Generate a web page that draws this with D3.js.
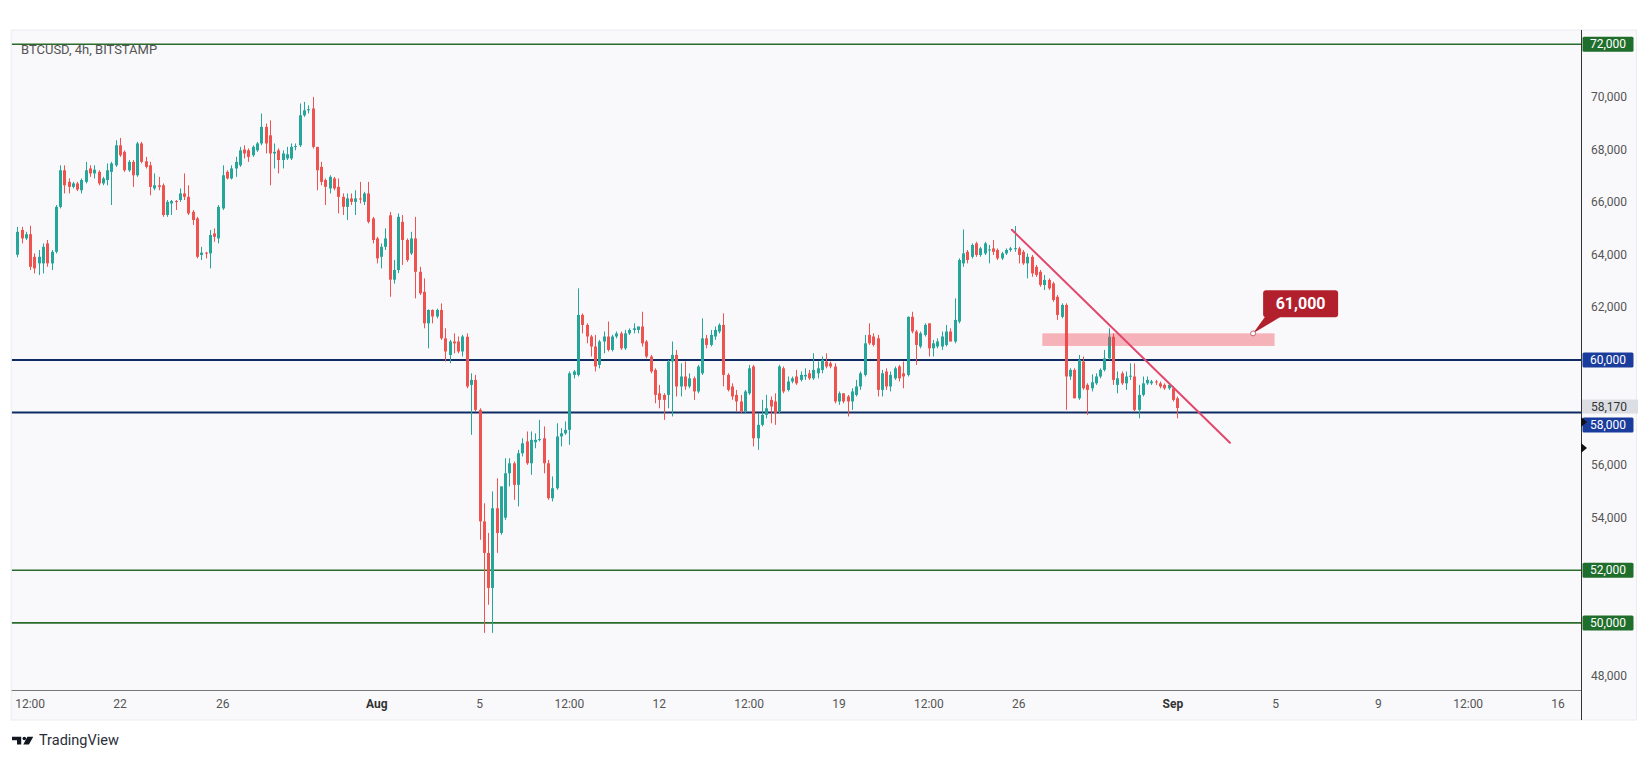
<!DOCTYPE html>
<html><head><meta charset="utf-8">
<script src="https://cdn.jsdelivr.net/npm/d3@7"></script>
<style>
body{margin:0;background:#fff;}
svg{display:block;font-family:Roboto,"Liberation Sans",sans-serif;}
</style></head><body>
<svg id="chart" width="1651" height="760"></svg>
<script>
// ---------------- DATA ----------------
const symbolTitle = "BTCUSD, 4h, BITSTAMP";
const barStart = "2024-07-18T00:00:00Z";
const barHours = 4;
const open = [
64000,64940,64620,64780,63920,63670,63670,64430,63670,64110,
65820,67210,66770,66580,66710,66450,66770,67280,67090,67150,
66710,66840,67150,67400,68160,67910,67210,67530,67020,68230,
67550,67400,66520,66640,66640,65510,65950,66040,66080,66330,
66200,65630,65380,63990,64080,64050,64810,64620,65760,67150,
66900,67280,67400,68000,67970,67780,67970,68230,68860,68540,
67850,67970,67600,67660,67660,68100,68160,69300,69490,69560,
68100,67340,66840,66520,66900,66580,66200,65820,66140,66010,
66140,66010,66330,65380,64620,63920,64300,65500,63050,63420,
65250,64560,64050,64620,63350,62590,61390,61900,61650,61900,
60820,60190,60700,60700,60320,60880,59050,59240,58100,53860,
52660,51330,54360,53420,54000,55690,56070,55250,56450,56900,
56070,56870,56960,57020,56070,54740,55120,57090,57210,57340,
59430,59430,61710,61330,60890,60510,59810,60700,60890,60380,
60890,61010,60440,61010,61140,61140,61270,60700,60130,59620,
58730,58670,58670,59940,60190,58990,59370,58990,59300,58800,
59490,60820,60570,60890,61080,61330,59430,58990,58670,58420,
58040,58730,59750,57020,57530,57910,58480,58420,58040,59680,
58860,59180,59370,59240,59370,59490,59300,59490,59620,59940,
59870,59750,58420,58730,58610,58420,58670,58990,59430,60950,
60890,60820,58860,59560,58990,59300,59750,59490,59430,61640,
61080,60510,60950,61390,60440,60510,60510,60570,61080,60700,
61460,63670,64110,63920,64430,63990,64050,64180,64240,64180,
63860,64050,64180,64240,64240,64110,63670,63920,63540,63350,
62850,63040,62910,62400,61640,62090,59370,59620,58540,59940,
59050,58920,59110,59370,59620,60060,60880,59050,59490,59110,
59370,59370,58100,58670,59110,59110,59180,59110,59050,58920,
58920,58540];
const high = [
65060,65060,64870,65100,64050,64180,64430,64560,64180,65890,
67400,67400,66900,66770,66770,66900,67530,67400,67400,67210,
66960,67470,67530,68350,68440,67970,67600,67600,68290,68290,
67720,67530,67090,66960,66710,66080,66080,66080,66520,67090,
66640,65700,65440,64300,64110,64940,65000,65890,67400,67210,
67400,67720,68100,68160,68040,68160,68290,69370,68990,69110,
68230,68040,67970,68100,68230,68230,69750,69810,69680,70000,
68100,67530,66900,67020,66960,66900,66330,66330,66330,66450,
66770,66390,66770,65440,64680,64430,65000,65630,63800,65570,
65510,64620,64870,65440,63540,63100,61920,61920,61950,62150,
61200,60760,61010,60890,60950,61010,59490,59430,58160,54550,
53420,55000,55500,55190,56260,56260,56140,56580,57020,57280,
57280,57210,57720,57470,56200,55570,57590,57400,57660,59560,
59620,62720,61770,61390,60950,60950,60760,61080,61460,60950,
61080,61080,61140,61200,61390,61270,61830,60760,60190,59680,
59050,58730,60000,60700,60380,59870,59940,59490,59370,59810,
61580,60950,61140,61270,61390,61770,59490,59110,58860,58670,
58860,59810,59810,57970,58480,58670,58610,58730,59810,59750,
59370,59370,59620,59560,59680,59620,60250,59940,60130,60250,
59940,59870,58800,58730,58670,58920,59240,59560,60950,61390,
61010,60950,59620,59680,59560,59750,59810,59940,61650,61830,
61140,61080,61390,61390,60760,60820,61080,61330,61200,62340,
63860,64960,64180,64430,64490,64300,64490,64370,64560,64240,
64110,64240,64300,65090,64300,64180,64050,63990,63610,63420,
63230,63100,62970,62470,62150,62150,59680,59680,60190,60130,
59110,59450,59490,59680,60380,61200,61010,59560,59560,59560,
59870,59870,59050,59370,59370,59240,59240,59180,59110,59110,
58990,58610];
const low = [
63900,64430,64560,63420,63290,63230,63290,63540,63420,64050,
65760,66330,66330,66520,66420,66330,66710,66960,66900,66640,
66640,66640,65890,67340,67720,67150,67150,66580,66960,67470,
67280,66260,66450,66450,65440,65440,65510,65700,66010,66080,
65510,65130,63860,63800,63860,63480,64490,64430,65700,66860,
66860,66960,67340,67660,67530,67720,67910,68160,67850,66640,
67280,67090,67280,67600,67600,67970,68100,69240,69370,68040,
66450,66640,65890,66330,66450,65570,65510,65320,65890,65510,
65950,65890,65190,64430,63670,63480,64180,62400,62900,63300,
63610,63730,63990,62340,62470,61200,60440,61390,61580,60760,
59940,59870,60250,60250,60130,58920,57150,58040,53160,49620,
50690,49620,52660,53350,53920,55190,54680,54430,56330,56010,
55630,56640,56900,55690,54680,54620,55060,56710,57150,56770,
59300,59370,61010,60630,60130,59560,59680,60250,60320,60320,
60820,60380,60380,60950,61010,61010,60510,60060,59490,58350,
58160,57720,58160,57850,58610,58610,58860,58920,58480,58730,
59430,60440,60510,60760,61010,58990,58800,58480,58040,57970,
57970,58670,56710,56580,57470,57780,57590,57530,57970,58730,
58800,59110,59050,59180,59240,59240,59240,59300,59490,59680,
59680,58350,58290,58350,57850,58100,58610,58860,59370,60570,
60510,58610,58610,58860,58800,59240,59180,58920,59370,61010,
59810,60440,60890,60130,60130,60440,60380,60510,60700,60630,
61390,63540,63670,63860,63920,63920,63990,63670,63990,63800,
63800,63990,64110,64110,63670,63610,63100,63160,63160,62780,
62660,62660,62210,61520,61580,58100,59240,58540,58480,58860,
57910,58800,59050,59300,59560,60000,59050,58730,59050,58860,
59240,58040,57780,58610,59050,59050,59050,58920,58860,58860,
58420,57780];
const close = [
64870,64620,64780,63540,63480,63920,64300,63670,64110,65820,
67210,66640,66580,66710,66480,66840,67210,67090,67230,66710,
66900,67210,67470,68160,67780,67210,67530,67020,68230,67530,
67340,66580,66640,66580,65510,66010,66040,66000,66330,66200,
65570,65320,63920,64080,64050,64750,64680,65820,67020,66900,
67280,67530,67970,67850,67720,68100,68230,68860,68230,67850,
67910,67600,67850,67820,68100,68130,69300,69490,69530,68100,
67210,66770,66580,66960,66520,66200,65820,66140,66010,66140,
66100,66330,65250,64560,63860,64300,64620,63050,63420,65440,
64560,63800,64620,63350,62530,61390,61900,61650,61900,60820,
60320,60700,60630,60320,60890,58990,59240,58100,53860,52660,
51330,54360,53420,55190,55690,56070,55250,56450,56830,56070,
56960,56960,56990,56070,54740,55120,57090,57210,57340,59490,
59560,61710,61330,60890,60510,59750,60700,60890,60380,60890,
61010,60440,61010,61140,61200,61270,60630,60130,59560,58670,
58480,58480,59940,60190,58990,59370,58990,59300,58800,59750,
60820,60570,60950,61140,61330,59430,58860,58610,58420,58040,
58800,59680,57020,57530,57910,58160,58230,57970,59750,58800,
59180,59300,59110,59430,59430,59300,59620,59680,60000,59750,
59750,58420,58730,58420,58420,58800,58990,59490,60630,60630,
60570,58860,59490,58990,59430,59680,59300,59370,61640,61080,
60570,61010,61330,60440,60630,60700,60890,61080,60700,61520,
63800,64050,63800,64370,63990,64240,64430,64200,64110,63860,
64050,64180,64240,64250,63990,63670,63920,63290,63230,62850,
63040,62720,62280,61710,62090,59370,59620,58540,60000,58920,
58860,59150,59370,59620,60060,60880,59240,59300,59110,59370,
59400,58100,58670,59110,59240,59180,59170,58990,58920,59050,
58480,58170];

const yTickValues = [48000,50000,52000,54000,56000,58000,60000,62000,64000,66000,68000,70000];
const xTickDates = ["2024-07-18T12:00Z","2024-07-22T00:00Z","2024-07-26T00:00Z","2024-08-01T00:00Z",
  "2024-08-05T00:00Z","2024-08-08T12:00Z","2024-08-12T00:00Z","2024-08-15T12:00Z","2024-08-19T00:00Z",
  "2024-08-22T12:00Z","2024-08-26T00:00Z","2024-09-01T00:00Z","2024-09-05T00:00Z","2024-09-09T00:00Z",
  "2024-09-12T12:00Z","2024-09-16T00:00Z"];
const xTickLabels = ["12:00","22","26","Aug","5","12:00","12","12:00","19","12:00","26","Sep","5","9","12:00","16"];
const xTickMonth = [false,false,false,true,false,false,false,false,false,false,false,true,false,false,false,false];

const levelPrices = [72000,60000,58000,52000,50000];
const levelKind = ["outer","range","range","outer","outer"];
const lastPrice = 58170;
const markerPrices = [57640,56650];

const zoneTimes = ["2024-08-26T22:00Z","2024-09-04T23:00Z"];
const zonePrices = [60530,61010];
const trendTimes = ["2024-08-25T17:30Z","2024-09-03T05:20Z"];
const trendPrices = [64950,56850];
const calloutText = "61,000";
const calloutTime = "2024-09-04T03:00Z";
const calloutPrice = 61010;

// ---------------- LAYOUT ----------------
const W = 1651, H = 760;
const plotL = 11.7, plotR = 1581, plotT = 30, plotB = 690;
const DAY = 864e5;
const t0 = Date.parse("2024-07-22T00:00:00Z");
const x = d3.scaleUtc()
  .domain([new Date(t0 - 4.217*DAY), new Date(t0 + 56.893*DAY)])
  .range([plotL, plotR]);
const y = d3.scaleLinear().domain([47449, 72544]).range([plotB, plotT]);

const colUp = "#26a69a", colDown = "#ef5350";
const levelColor = {outer:"#2a6b2c", range:"#0f2c63"};
const levelBox = {outer:"#1f6e2b", range:"#1a3c9c"};
const levelWidth = {outer:1.6, range:2};

const svg = d3.select("#chart");
svg.append("rect").attr("width",W).attr("height",H).attr("fill","#fff");
svg.append("rect").attr("x",plotL-0.5).attr("y",plotT).attr("width",1637-plotL).attr("height",720-plotT)
  .attr("fill","#f9f9fb").attr("stroke","#ececf0");

const defs = svg.append("defs");
defs.append("clipPath").attr("id","plot").append("rect")
  .attr("x",plotL).attr("y",plotT).attr("width",plotR-plotL).attr("height",plotB-plotT);
defs.append("clipPath").attr("id","title").append("rect")
  .attr("x",plotL).attr("y",45).attr("width",400).attr("height",30);

// title (partly hidden under top level line)
svg.append("text").attr("clip-path","url(#title)")
  .attr("x",21).attr("y",53.5).attr("font-size",13).attr("fill","#555").text(symbolTitle);

const g = svg.append("g").attr("clip-path","url(#plot)");

// level lines
const levels = levelPrices.map((p,i)=>({p,k:levelKind[i]}));
g.selectAll("line.level").data(levels).join("line").attr("class","level")
  .attr("x1",plotL).attr("x2",plotR)
  .attr("y1",d=>y(d.p)).attr("y2",d=>y(d.p))
  .attr("stroke",d=>levelColor[d.k]).attr("stroke-width",d=>levelWidth[d.k]);

// candles
const bars = open.map((o,i)=>({t:new Date(Date.parse(barStart)+i*barHours*3600e3),o,h:high[i],l:low[i],c:close[i]}));
const bw = 3;
const cg = g.append("g");
cg.selectAll("line.wick").data(bars).join("line").attr("class","wick")
  .attr("x1",d=>Math.round(x(d.t))+0.5).attr("x2",d=>Math.round(x(d.t))+0.5)
  .attr("y1",d=>y(d.h)).attr("y2",d=>y(d.l))
  .attr("stroke",d=>d.c>=d.o?colUp:colDown).attr("stroke-width",1);
cg.selectAll("rect.body").data(bars).join("rect").attr("class","body")
  .attr("x",d=>Math.round(x(d.t))+0.5-bw/2).attr("width",bw)
  .attr("y",d=>y(Math.max(d.o,d.c)))
  .attr("height",d=>Math.max(1,Math.abs(y(d.o)-y(d.c))))
  .attr("fill",d=>d.c>=d.o?colUp:colDown);

// zone
g.append("rect")
  .attr("x",x(new Date(zoneTimes[0]))).attr("width",x(new Date(zoneTimes[1]))-x(new Date(zoneTimes[0])))
  .attr("y",y(zonePrices[1])).attr("height",y(zonePrices[0])-y(zonePrices[1]))
  .attr("fill","#f23645").attr("fill-opacity",0.36);

// trend line
g.append("line")
  .attr("x1",x(new Date(trendTimes[0]))).attr("y1",y(trendPrices[0]))
  .attr("x2",x(new Date(trendTimes[1]))).attr("y2",y(trendPrices[1]))
  .attr("stroke","#e2476d").attr("stroke-width",2).attr("stroke-linecap","round");

// callout
const ax = x(new Date(calloutTime)), ay = y(calloutPrice);
const cl = svg.append("g");
cl.append("path").attr("d",`M${ax+13},${ay-18} L${ax+30},${ay-18} L${ax},${ay} Z`).attr("fill","#b3202d");
cl.append("rect").attr("x",ax+10).attr("y",ay-43).attr("width",75).attr("height",27).attr("rx",3).attr("fill","#b3202d");
cl.append("text").attr("x",ax+47.5).attr("y",ay-29.5).attr("text-anchor","middle").attr("dominant-baseline","central")
  .attr("font-size",16).attr("font-weight","bold").attr("fill","#fff").text(calloutText);
cl.append("circle").attr("cx",ax).attr("cy",ay).attr("r",2.5).attr("fill","#fff").attr("stroke","#c0646e").attr("stroke-width",1);

// axes frame
svg.append("line").attr("x1",plotL).attr("x2",plotR).attr("y1",plotB+0.5).attr("y2",plotB+0.5).attr("stroke","#777");
svg.append("line").attr("x1",plotR+0.5).attr("x2",plotR+0.5).attr("y1",plotT).attr("y2",720).attr("stroke","#333");

// y tick labels
const boxed = new Set(levelPrices);
svg.append("g").selectAll("text").data(yTickValues.filter(v=>!boxed.has(v))).join("text")
  .attr("x",1609).attr("y",d=>y(d)).attr("text-anchor","middle").attr("dominant-baseline","central")
  .attr("font-size",12).attr("fill","#555").text(d=>d3.format(",")(d));

// last price label
const fmt = d3.format(",");
const lpY = y(lastPrice) - 1.5;
const boxH = 14;
svg.append("rect").attr("x",1582).attr("y",lpY-boxH/2).attr("width",56).attr("height",boxH).attr("fill","#dcdee3");
svg.append("text").attr("x",1609).attr("y",lpY).attr("text-anchor","middle").attr("dominant-baseline","central")
  .attr("font-size",12).attr("fill","#333").text(fmt(lastPrice));

// level labels
levels.forEach(d=>{
  let cy = y(d.p);
  if (Math.abs(cy-lpY) < boxH+2) cy = lpY + boxH + 4.5;
  svg.append("rect").attr("x",1582.5).attr("y",cy-boxH/2-0.5).attr("width",51).attr("height",boxH+1).attr("rx",1.5).attr("fill",levelBox[d.k]);
  svg.append("text").attr("x",1608).attr("y",cy).attr("text-anchor","middle").attr("dominant-baseline","central")
    .attr("font-size",12).attr("fill","#fff").text(fmt(d.p));
});

// markers
svg.append("g").selectAll("path").data(markerPrices).join("path")
  .attr("d",p=>{const yy=y(p);return `M${plotR},${yy-5} L${plotR+6},${yy} L${plotR},${yy+5} Z`;})
  .attr("fill","#111");

// x tick labels
svg.append("g").selectAll("text").data(xTickDates.map((d,i)=>({t:new Date(d),s:xTickLabels[i],b:xTickMonth[i]}))).join("text")
  .attr("x",d=>x(d.t)).attr("y",704).attr("text-anchor","middle").attr("dominant-baseline","central")
  .attr("font-size",12).attr("font-weight",d=>d.b?"bold":"normal").attr("fill",d=>d.b?"#333":"#555").text(d=>d.s);

// TradingView logo
const lg = svg.append("g").attr("fill","#131722");
lg.append("path").attr("d","M12,736.7 h9.2 v7.8 h-4.2 v-4.3 h-5 z");
lg.append("circle").attr("cx",24.3).attr("cy",738.5).attr("r",1.8);
lg.append("path").attr("d","M27.4,736.7 h5.9 l-4.4,7.8 h-5.6 z");
svg.append("text").attr("x",39).attr("y",745).attr("font-size",14.5).attr("fill","#2a2e39").text("TradingView");
</script>
</body></html>
